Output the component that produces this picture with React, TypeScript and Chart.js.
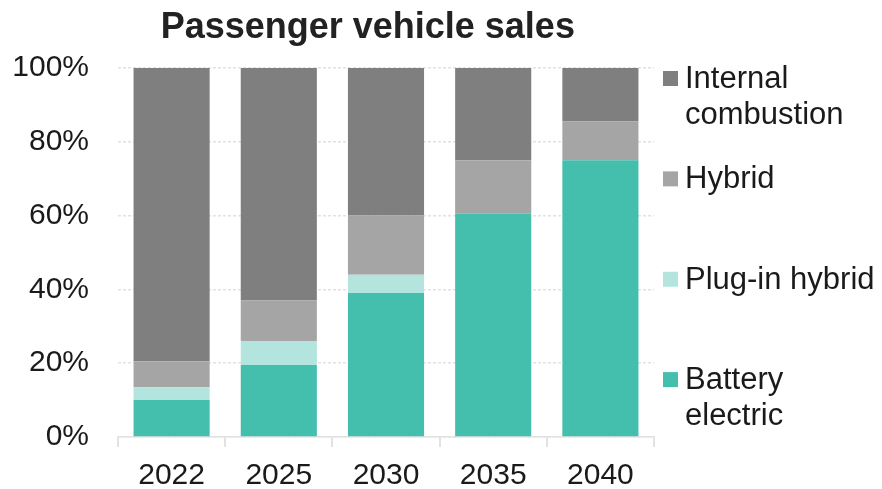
import React, { useEffect, useRef } from "react";
import { Chart, registerables } from "chart.js";

Chart.register(...registerables);

const TITLE = "Passenger vehicle sales";
const categories = ["2022", "2025", "2030", "2035", "2040"];
const batteryElectric = [10, 19.5, 39, 60.5, 75];
const plugInHybrid = [3.5, 6.5, 5, 0, 0];
const hybrid = [7, 11, 16, 14.5, 10.5];
const internalCombustion = [79.5, 63, 40, 25, 14.5];
const yTicks = [0, 20, 40, 60, 80, 100];

const seriesNames: string[][] = [
  ["Battery", "electric"],
  ["Plug-in hybrid"],
  ["Hybrid"],
  ["Internal", "combustion"],
];
const seriesColors = ["#44bfad", "#b3e5de", "#a5a5a5", "#7f7f7f"];
const seriesValues = [batteryElectric, plugInHybrid, hybrid, internalCombustion];

const TEXT = "#1a1a1a";
const FONT = '"Liberation Sans", Arial, Helvetica, sans-serif';
const GRID = "#e2e2e2";

const overlayPlugin = {
  id: "overlay",
  afterDraw(chart: any) {
    const { ctx, chartArea } = chart;
    ctx.save();
    // title
    ctx.font = `bold 36px ${FONT}`;
    ctx.fillStyle = "#222";
    ctx.textAlign = "center";
    ctx.textBaseline = "alphabetic";
    ctx.fillText(TITLE, chartArea.left + chartArea.width * 0.466, chartArea.top - 30.5);

    // legend (top item = last dataset)
    const x0 = chartArea.right + 9;
    const y0 = chartArea.top + 10.5;
    const step = chartArea.height * 0.272;
    const box = 15;
    ctx.font = `31px ${FONT}`;
    ctx.textAlign = "left";
    ctx.textBaseline = "middle";
    const ds = chart.data.datasets;
    for (let k = 0; k < ds.length; k++) {
      const d = ds[ds.length - 1 - k];
      const yc = y0 + k * step;
      ctx.fillStyle = d.backgroundColor;
      ctx.fillRect(x0, yc - box / 2, box, box);
      ctx.fillStyle = TEXT;
      const lines: string[] = d.legendLines;
      lines.forEach((ln, i) => ctx.fillText(ln, x0 + 22, yc + 1 + i * 36));
    }
    ctx.restore();
  },
};

export default function App() {
  const ref = useRef<HTMLCanvasElement | null>(null);
  useEffect(() => {
    if (!ref.current) return;
    const chart = new Chart(ref.current, {
      type: "bar",
      data: {
        labels: categories,
        datasets: seriesValues.map((vals, i) => ({
          label: seriesNames[i].join(" "),
          legendLines: seriesNames[i],
          data: vals,
          backgroundColor: seriesColors[i],
          borderWidth: 0,
          barPercentage: 0.71,
          categoryPercentage: 1,
        })) as any,
      },
      options: {
        animation: false,
        responsive: true,
        maintainAspectRatio: false,
        layout: { padding: { left: 12, right: 228, top: 68, bottom: 1 } },
        plugins: {
          legend: { display: false },
          title: { display: false },
          tooltip: { enabled: false },
        },
        scales: {
          x: {
            stacked: true,
            afterFit: (scale: any) => {
              scale.height = 51;
            },
            grid: {
              display: true,
              drawOnChartArea: false,
              drawTicks: true,
              tickLength: 10,
              offset: true,
              color: GRID,
              lineWidth: 2,
            },
            border: { display: true, color: GRID, width: 1.5 },
            ticks: {
              color: TEXT,
              font: { family: FONT, size: 30 },
              padding: 11,
              maxRotation: 0,
            },
          },
          y: {
            stacked: true,
            min: 0,
            max: 100,
            afterBuildTicks: (scale: any) => {
              scale.ticks = yTicks.map((v) => ({ value: v }));
            },
            afterFit: (scale: any) => {
              scale.width = 106;
            },
            grid: {
              color: GRID,
              lineWidth: 1.5,
              drawTicks: false,
            },
            border: { display: false, dash: [3, 2] },
            ticks: {
              color: TEXT,
              font: { family: FONT, size: 30 },
              padding: 29,
              callback: (v: any) => `${v}%`,
            },
          },
        },
      },
      plugins: [overlayPlugin],
    });
    return () => chart.destroy();
  }, []);
  return (
    <div style={{ position: "fixed", left: 0, top: 0, width: 882, height: 489, background: "#fff" }}>
      <canvas ref={ref} />
    </div>
  );
}
